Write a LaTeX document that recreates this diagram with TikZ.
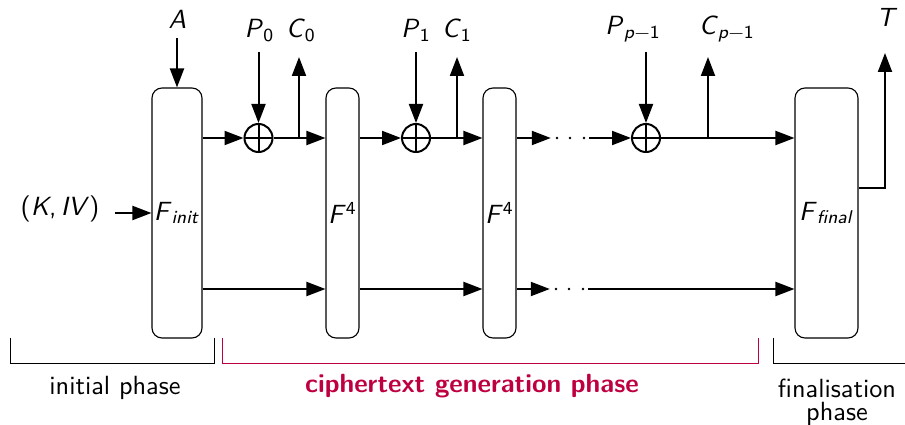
\documentclass[tikz,border=0pt]{standalone}
\usetikzlibrary{arrows.meta,calc}
\newcommand{\vr}[1]{\textit{#1}}
\newcommand{\lo}[1]{\textsubscript{#1}}
\newcommand{\hi}[1]{\textsuperscript{#1}}
\begin{document}
\begin{tikzpicture}[x=1pt,y=-1pt,
  txt/.style={scale=2.63, inner sep=0pt, font=\sffamily},
  blk/.style={draw, rounded corners=10pt, line width=1.1pt, minimum height=250pt, inner sep=0pt},
  arr/.style={line width=2pt, -{Triangle[length=19pt,width=14pt]}},
  xor/.style={circle, draw, line width=2pt, minimum size=28pt, inner sep=0pt,
    path picture={\draw[line width=2pt] (path picture bounding box.north) -- (path picture bounding box.south)
      (path picture bounding box.west) -- (path picture bounding box.east);}},
  lbl/.style={txt, anchor=base},
  gap/.style={minimum width=38pt, minimum height=4pt, inner sep=0pt},
  brk/.style={line width=1pt}]
\useasboundingbox (0,0) rectangle (905,425);

% rows
\coordinate (top) at (0,138);
\coordinate (bot) at (0,289);

% blocks
\node[blk, minimum width=50pt, label={[txt]center:\vr{F}\lo{\vr{init}}}] (Finit) at (177,213) {};
\node[blk, minimum width=33pt, label={[txt]center:\vr{F}\hi{4}}] (F4a) at (342.5,213) {};
\node[blk, minimum width=33pt, label={[txt]center:\vr{F}\hi{4}}] (F4b) at (499.5,213) {};
\node[blk, minimum width=63pt, label={[txt]center:\vr{F}\lo{\vr{final}}}] (Ffinal) at (826.5,213) {};

% xors
\node[xor] (x0) at (258.5,138) {};
\node[xor] (x1) at (416,138) {};
\node[xor] (x2) at (646,138) {};

% dots gaps
\node[gap] (dtop) at (570,138) {};
\node[gap] (dbot) at (569,289) {};
\foreach \d in {-13,0,14} {
  \fill ([xshift=\d pt]dtop.center) circle (1.3pt);
  \fill ([xshift=\d pt]dbot.center) circle (1.3pt);
}

% labels
\node[lbl] (A) at (177.5,29) {\vr{A}};
\node[lbl] (P0) at (259.5,38) {\vr{P}\lo{0}};
\node[lbl] (C0) at (301,38) {\vr{C}\lo{0}};
\node[lbl] (P1) at (416,38) {\vr{P}\lo{1}};
\node[lbl] (C1) at (457,38) {\vr{C}\lo{1}};
\node[lbl] (Pp) at (633,35) {\vr{P}\lo{\vr{p}−1}};
\node[lbl] (Cp) at (727,35) {\vr{C}\lo{\vr{p}−1}};
\node[lbl] (T) at (887,27) {\vr{T}};
\node[lbl] (KIV) at (60,215) {(\vr{K},\,\vr{IV})};

% free ends
\coordinate (As) at (177,38);
\coordinate (P0s) at (258.5,52);
\coordinate (P1s) at (416,52);
\coordinate (Pps) at (646,52);
\coordinate (C0b) at (299,138);
\coordinate (C0e) at (299,57);
\coordinate (C1b) at (457,138);
\coordinate (C1e) at (457,57);
\coordinate (Cpb) at (708,138);
\coordinate (Cpe) at (708,57);
\coordinate (Tc) at (885,188);
\coordinate (Te) at (885,53);
\coordinate (Ks) at (115,213);

% inputs
\draw[arr] (As) -- (Finit.north);
\draw[arr] (P0s) -- (x0.north);
\draw[arr] (P1s) -- (x1.north);
\draw[arr] (Pps) -- (x2.north);
\draw[arr] (Ks) -- (Finit.west);

% outputs
\draw[arr] (C0b) -- (C0e);
\draw[arr] (C1b) -- (C1e);
\draw[arr] (Cpb) -- (Cpe);
\draw[arr] (Tc -| Ffinal.east) -- (Tc) -- (Te);

% top row
\draw[arr] (Finit.east |- top) -- (x0.west);
\draw[arr] (x0.east) -- (F4a.west |- top);
\draw[arr] (F4a.east |- top) -- (x1.west);
\draw[arr] (x1.east) -- (F4b.west |- top);
\draw[arr] (F4b.east |- top) -- (dtop.west);
\draw[arr] (dtop.east) -- (x2.west);
\draw[arr] (x2.east) -- (Ffinal.west |- top);

% bottom row
\draw[arr] (Finit.east |- bot) -- (F4a.west |- bot);
\draw[arr] (F4a.east |- bot) -- (F4b.west |- bot);
\draw[arr] (F4b.east |- bot) -- (dbot.west);
\draw[arr] (dbot.east) -- (Ffinal.west |- bot);

% phase brackets
\draw[brk] (10,338) -- (10,363) -- (214,363) -- (214,338);
\draw[brk, purple] (222,338) -- (222,363) -- (758,363) -- (758,338);
\draw[brk] (773,338) -- (773,363) -- (905,363);

\node[lbl] (ip) at (115,394) {initial phase};
\node[lbl, purple, font=\sffamily\bfseries] (cp) at (472,392) {ciphertext generation phase};
\node[txt, align=center, anchor=north, font=\fontsize{10}{9}\selectfont\sffamily] (fp) at (837,378) {finalisation\\phase};
\end{tikzpicture}
\end{document}
